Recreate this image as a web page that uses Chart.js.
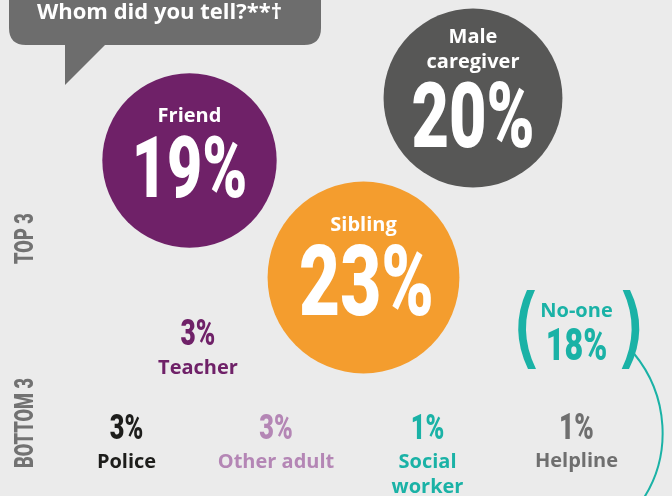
<!DOCTYPE html>
<html>
<head>
<meta charset="utf-8">
<script src="https://cdn.jsdelivr.net/npm/chart.js@4/dist/chart.umd.min.js"></script>
<style>
  html,body{margin:0;padding:0;background:#ebebeb;}
  #wrap{width:672px;height:496px;}
</style>
</head>
<body>
<div id="wrap"><canvas id="c" width="672" height="496"></canvas></div>
<script>
// ---------------- DATA ----------------
const chartTitle = 'Whom did you tell?**\u2020';
const categories = ['Friend', 'Male caregiver', 'Sibling', 'Teacher', 'Police', 'Other adult', 'Social worker', 'Helpline', 'No-one'];
const percentages = [19, 20, 23, 3, 3, 3, 1, 1, 18];
const groupLabels = ['TOP 3', 'BOTTOM 3'];

// ---------------- LAYOUT (positions on a 672 x 496 design grid) ----------------
const layoutX = [189.5, 473, 363.5, 198, 126.5, 276, 427.5, 576.5, 576.5];
const layoutY = [160.5, 98, 277.5, 345, 439.3, 439.3, 439.3, 439, 360];
const bubbleItems = [0, 1, 2];          // drawn as circles
const labelLines = [['Friend'], ['Male', 'caregiver'], ['Sibling'], ['Teacher'], ['Police'], ['Other adult'], ['Social', 'worker'], ['Helpline'], ['No-one']];
// baseline offsets of label lines and number, relative to anchor
const labelOffsets = [[-38.8], [-55.3, -30], [-46.5], [29], [28.7], [28.7], [28.7, 53.7], [27.7], [-43.3]];
const numberOffsets = [36.2, 49, 37.5, 0, 0, 0, 0, 0, 0];
const numberCaps = [60, 64, 70, 26, 25, 25, 25, 26, 32];
const numberDx = [0, 0, 3, 0, 0, 0, 0, 0, 0];
const fillColors = ['#6f2168', '#575756', '#f49d2e', null, null, null, null, null, null];
const textColors = ['#ffffff', '#ffffff', '#ffffff', '#6f2168', '#1d1d1b', '#b486b5', '#1ab2a6', '#6f6f6f', '#1ab2a6'];

const LABEL_FONT = '"Open Sans", "Inter", sans-serif';
const NUM_FONT = 'Roboto, "Liberation Sans", sans-serif';
const SQUEEZE = 0.72;

function radiusFor(v) { return 20 * Math.sqrt(v); }

function condensed(ctx, text, cx, baseline, capH, color) {
  const size = capH / 0.711;
  ctx.save();
  ctx.font = `900 ${size}px ${NUM_FONT}`;
  ctx.fillStyle = color;
  ctx.textAlign = 'center';
  ctx.textBaseline = 'alphabetic';
  ctx.translate(cx, baseline);
  ctx.scale(SQUEEZE, 1);
  ctx.fillText(text, 0, 0);
  ctx.restore();
}

const backgroundPlugin = {
  id: 'bgDecor',
  beforeDraw(chart) {
    const ctx = chart.ctx;
    ctx.save();
    ctx.fillStyle = '#ebebeb';
    ctx.fillRect(0, 0, chart.width, chart.height);
    // speech bubble
    ctx.fillStyle = '#6d6d6d';
    const x0 = 9, x1 = 321, y0 = -20, y1 = 45, rad = 17;
    ctx.beginPath();
    ctx.moveTo(x0, y0);
    ctx.lineTo(x1, y0);
    ctx.lineTo(x1, y1 - rad);
    ctx.quadraticCurveTo(x1, y1, x1 - rad, y1);
    ctx.lineTo(105, y1);
    ctx.lineTo(65, 85);
    ctx.lineTo(65, y1);
    ctx.lineTo(x0 + rad, y1);
    ctx.quadraticCurveTo(x0, y1, x0, y1 - rad);
    ctx.closePath();
    ctx.fill();
    ctx.fillStyle = '#ffffff';
    ctx.font = `700 22px ${LABEL_FONT}`;
    ctx.textAlign = 'left';
    ctx.textBaseline = 'alphabetic';
    ctx.fillText(chartTitle, 37, 18.5);
    // group labels (rotated)
    ctx.fillStyle = '#727272';
    const gy = [238.5, 423];
    groupLabels.forEach((t, i) => {
      ctx.save();
      ctx.translate(33.3, gy[i]);
      ctx.rotate(-Math.PI / 2);
      ctx.scale(SQUEEZE, 1);
      ctx.font = `900 ${18 / 0.711}px ${NUM_FONT}`;
      ctx.textAlign = 'center';
      ctx.fillText(t, 0, 0);
      ctx.restore();
    });
    ctx.restore();
  }
};

const labelPlugin = {
  id: 'labels',
  afterDatasetsDraw(chart) {
    const ctx = chart.ctx;
    const xs = chart.scales.x, ys = chart.scales.y;
    ctx.save();
    categories.forEach((cat, i) => {
      const px = xs.getPixelForValue(layoutX[i]);
      const py = ys.getPixelForValue(layoutY[i]);
      ctx.fillStyle = textColors[i];
      ctx.font = `700 20px ${LABEL_FONT}`;
      ctx.textAlign = 'center';
      ctx.textBaseline = 'alphabetic';
      labelLines[i].forEach((line, k) => {
        ctx.fillText(line, px, py + labelOffsets[i][k]);
      });
      condensed(ctx, percentages[i] + '%', px + numberDx[i], py + numberOffsets[i], numberCaps[i], textColors[i]);
    });
    // brackets and connector around "No-one"
    const n = categories.indexOf('No-one');
    const ax = xs.getPixelForValue(layoutX[n]);
    const ay = ys.getPixelForValue(layoutY[n]);
    ctx.fillStyle = textColors[n];
    ctx.beginPath();
    ctx.moveTo(ax - 49.5, ay - 70);
    ctx.quadraticCurveTo(ax - 67.5, ay - 30.5, ax - 48.5, ay + 9);
    ctx.lineTo(ax - 40.5, ay + 9);
    ctx.quadraticCurveTo(ax - 60, ay - 30.5, ax - 41.5, ay - 70);
    ctx.closePath();
    ctx.fill();
    ctx.beginPath();
    ctx.moveTo(ax + 53.5, ay - 70);
    ctx.quadraticCurveTo(ax + 72.5, ay - 30.5, ax + 52.5, ay + 9);
    ctx.lineTo(ax + 45.2, ay + 9);
    ctx.quadraticCurveTo(ax + 64.5, ay - 30.5, ax + 46.2, ay - 70);
    ctx.closePath();
    ctx.fill();
    ctx.strokeStyle = textColors[n];
    ctx.lineWidth = 2;
    ctx.beginPath();
    ctx.moveTo(ax + 57, ay - 7);
    ctx.bezierCurveTo(ax + 92, ay + 35, ax + 96, ay + 95, ax + 66, ay + 140);
    ctx.stroke();
    ctx.restore();
  }
};

new Chart(document.getElementById('c'), {
  type: 'bubble',
  data: {
    datasets: [{
      label: 'Top 3',
      data: bubbleItems.map(i => ({ x: layoutX[i], y: layoutY[i], r: radiusFor(percentages[i]) })),
      backgroundColor: bubbleItems.map(i => fillColors[i]),
      borderWidth: 0,
      hoverRadius: 0,
      clip: false
    }]
  },
  options: {
    responsive: false,
    animation: false,
    events: [],
    layout: { padding: 0, autoPadding: false },
    plugins: { legend: { display: false }, tooltip: { enabled: false }, title: { display: false } },
    scales: {
      x: { type: 'linear', min: 0, max: 672, display: false },
      y: { type: 'linear', min: 0, max: 496, reverse: true, display: false }
    }
  },
  plugins: [backgroundPlugin, labelPlugin]
});
</script>
</body>
</html>
